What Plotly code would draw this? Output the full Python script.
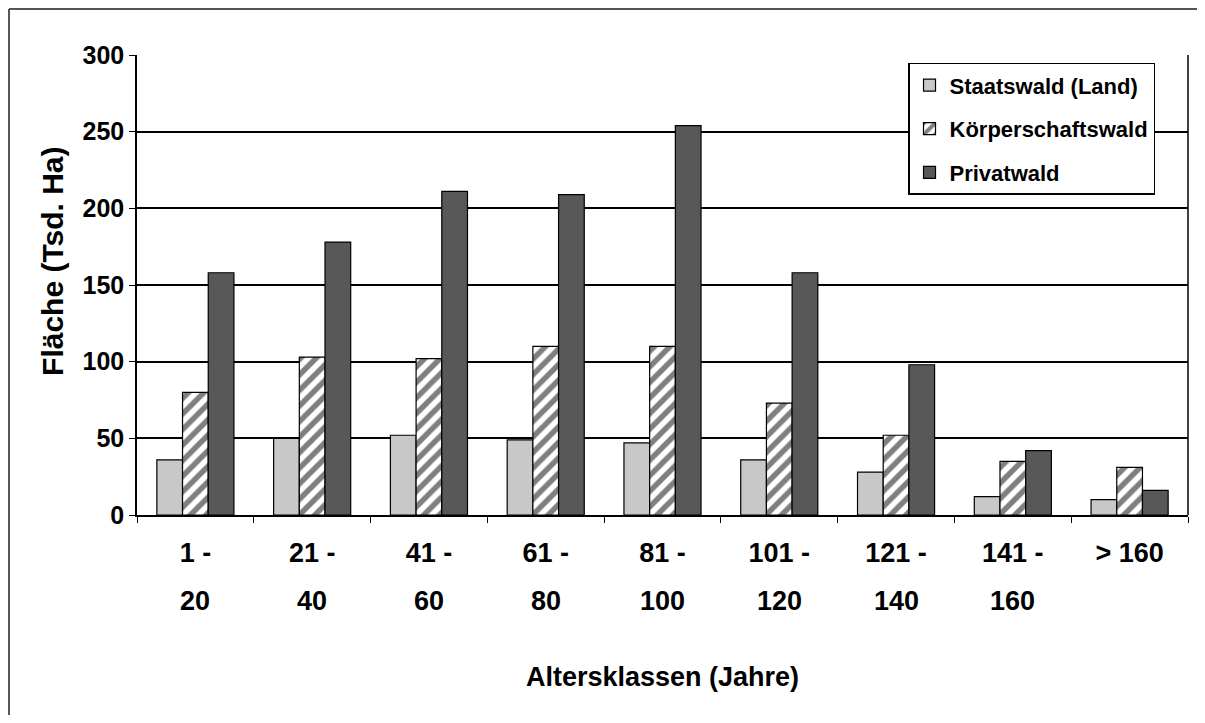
import plotly.graph_objects as go

label_top = ["1 -", "21 -", "41 -", "61 -", "81 -", "101 -", "121 -", "141 -", "> 160"]
label_bottom = ["20", "40", "60", "80", "100", "120", "140", "160", ""]
categories = ["1-20", "21-40", "41-60", "61-80", "81-100", "101-120", "121-140", "141-160", ">160"]

staatswald = [36, 50, 52, 49, 47, 36, 28, 12, 10]
koerperschaftswald = [80, 103, 102, 110, 110, 73, 52, 35, 31]
privatwald = [158, 178, 211, 209, 254, 158, 98, 42, 16]

x_title = "Altersklassen (Jahre)"
y_title = "Fläche (Tsd. Ha)"

FONT = "Liberation Sans, Arial, sans-serif"
YTICK = dict(family=FONT, size=25, color="black", weight="bold")
XTICK = dict(family=FONT, size=27, color="black", weight="bold")

fig = go.Figure()
fig.add_trace(go.Bar(
    x=categories, y=staatswald, name="Staatswald (Land)",
    marker=dict(color="#c8c8c8", line=dict(color="black", width=1.2)),
    legendgroup="a"))
fig.add_trace(go.Bar(
    x=categories, y=koerperschaftswald, name="Körperschaftswald",
    marker=dict(color="white", line=dict(color="black", width=1.2),
                pattern=dict(shape="/", fgcolor="black", bgcolor="white",
                             size=11, solidity=0.5, fillmode="overlay")),
    legendgroup="b"))
fig.add_trace(go.Bar(
    x=categories, y=privatwald, name="Privatwald",
    marker=dict(color="#585858", line=dict(color="black", width=1.2)),
    legendgroup="c"))

# second line of the category labels
for c, t in zip(categories, label_bottom):
    fig.add_annotation(x=c, xref="x", y=-0.187, yref="paper", text=t,
                       showarrow=False, xanchor="center", yanchor="middle",
                       font=XTICK)

# y axis title (placed slightly above the plot centre as in the original)
fig.add_annotation(x=-0.081, xref="paper", y=0.552, yref="paper", text=y_title,
                   textangle=-90, showarrow=False, xanchor="center", yanchor="middle",
                   font=dict(family=FONT, size=30, color="black", weight="bold"))

fig.update_layout(
    width=1197, height=707,
    margin=dict(l=129, r=17, t=47, b=200),
    paper_bgcolor="white", plot_bgcolor="white",
    font=dict(family=FONT, color="black"),
    barmode="group", bargap=0.34, bargroupgap=0,
    showlegend=True,
    legend=dict(x=0.7336, y=0.983, xanchor="left", yanchor="top",
                bgcolor="white", bordercolor="black", borderwidth=1.5,
                font=dict(family=FONT, size=22, color="black", weight="bold"),
                tracegroupgap=12, traceorder="grouped",
                entrywidth=215, entrywidthmode="pixels"),
    xaxis=dict(
        tickmode="array", tickvals=categories, ticktext=label_top,
        tickfont=XTICK,
        tickson="boundaries", ticks="outside", ticklen=6, tickcolor="black",
        ticklabelstandoff=13,
        showline=True, linecolor="black", linewidth=1.5,
        showgrid=False,
        title=dict(text=x_title,
                   font=dict(family=FONT, size=27, color="black", weight="bold"),
                   standoff=100),
    ),
    yaxis=dict(
        range=[0, 300], tickvals=[0, 50, 100, 150, 200, 250, 300],
        tickfont=YTICK,
        ticks="outside", ticklen=6, tickcolor="black",
        showline=True, linecolor="black", linewidth=1.5,
        showgrid=True, gridcolor="black", gridwidth=1.5,
        zeroline=False,
    ),
    shapes=[
        dict(type="line", xref="paper", yref="paper", x0=1, x1=1, y0=0, y1=1,
             line=dict(color="black", width=1.5)),
        dict(type="line", xref="paper", yref="paper", x0=-0.1218, x1=1.02, y0=1.1, y1=1.1,
             line=dict(color="#555555", width=2)),
        dict(type="line", xref="paper", yref="paper", x0=-0.1218, x1=-0.1218, y0=1.1, y1=-0.44,
             line=dict(color="#555555", width=2)),
    ],
)

fig.write_html("out.html")
